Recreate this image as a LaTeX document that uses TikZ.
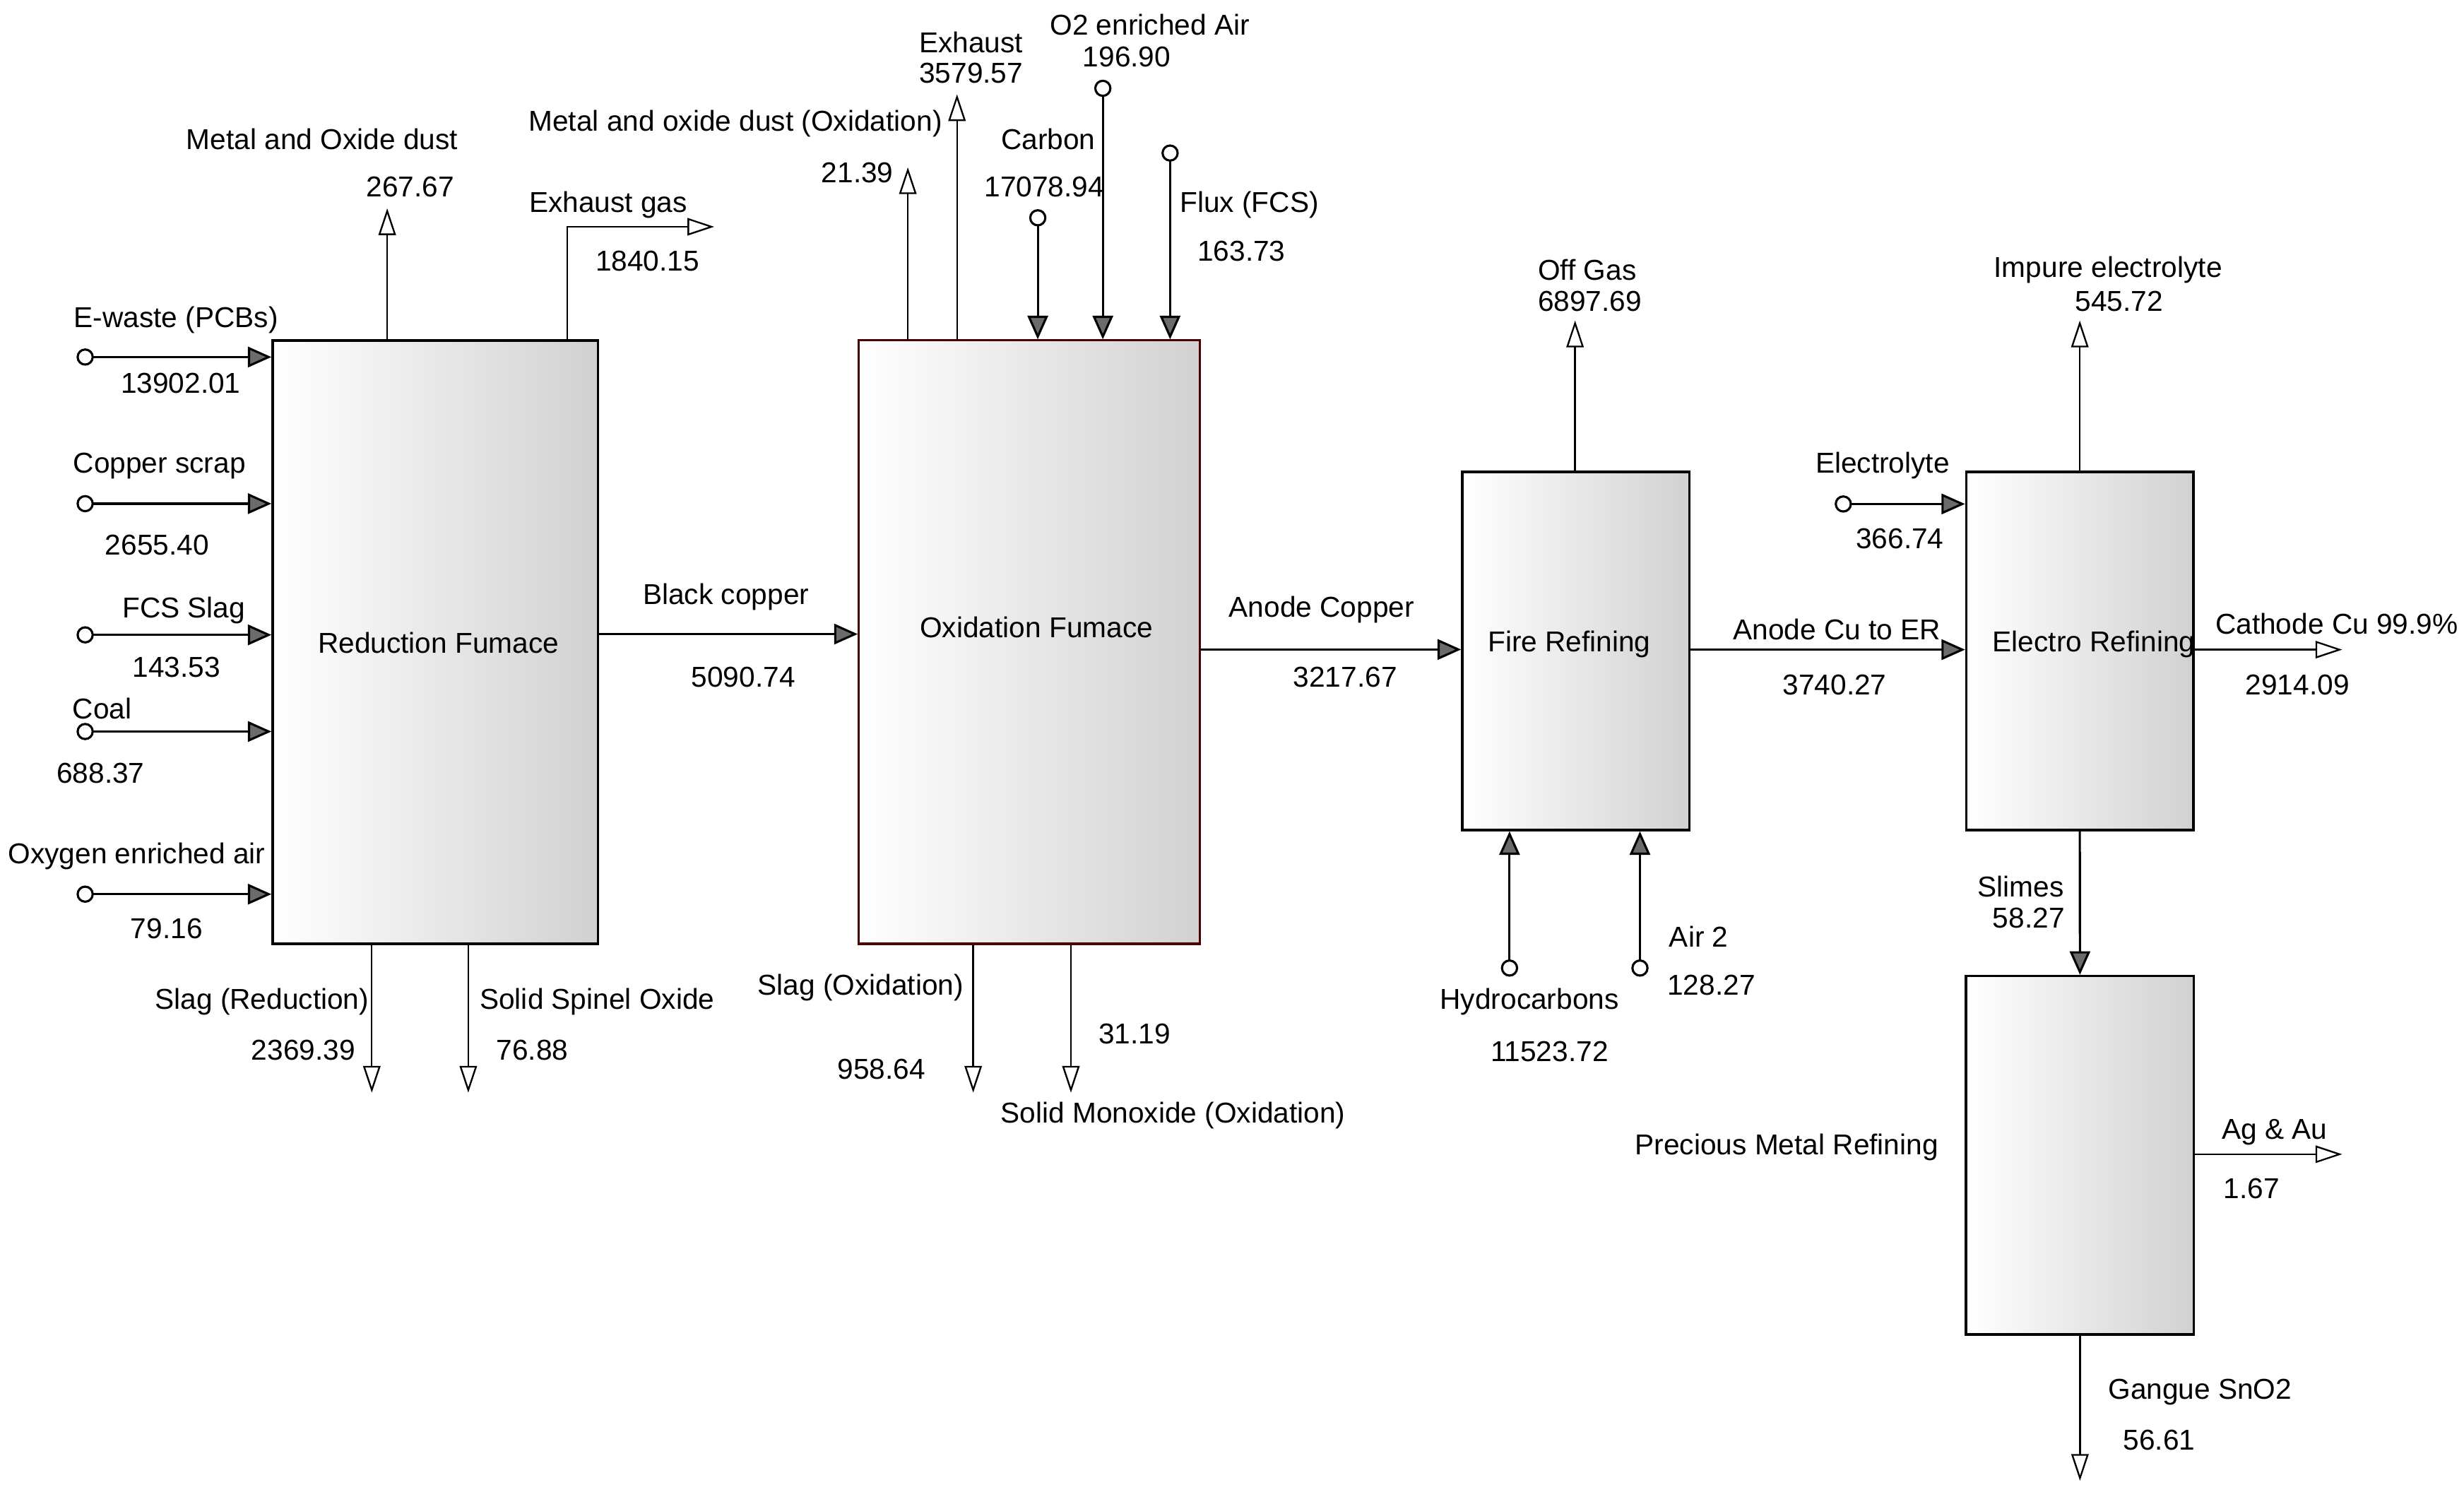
\documentclass[tikz,border=0pt]{standalone}
\usepackage{fontspec}
\setmainfont{Liberation Sans}
\usetikzlibrary{arrows.meta}
\definecolor{oxborder}{RGB}{72,0,0}

\tikzset{
  unit/.style={draw, line width=0.9pt, left color=white, right color=black!18, inner sep=0pt},
  feed/.style={line width=0.8pt, {Circle[open,length=2.2mm,width=2.2mm]}-{Triangle[length=3mm,width=2.6mm,fill=black!58]}},
  link/.style={line width=0.8pt, -{Triangle[length=3mm,width=2.6mm,fill=black!58]}},
  prod/.style={line width=0.6pt, -{Triangle[open,length=3.4mm,width=2.2mm]}}
}

\begin{document}
\begin{tikzpicture}[x=0.02cm,y=-0.02cm,font=\fontsize{10.4}{12}\selectfont]
\useasboundingbox (0,0) rectangle (1568,949);

% units
\node[unit, minimum width=4.14cm, minimum height=7.68cm] (red) at (277,408.6) {};
\node[unit, draw=oxborder, line width=0.8pt, minimum width=4.34cm, minimum height=7.68cm] (oxf) at (655,408.6) {};
\node[unit, minimum width=2.89cm, minimum height=4.56cm] (fr) at (1002.8,414.2) {};
\node[unit, minimum width=2.89cm, minimum height=4.56cm] (er) at (1323.5,414.2) {};
\node[unit, minimum width=2.9cm, minimum height=4.56cm] (pmr) at (1323.6,735.1) {};
\node (redl) at (279,409) {Reduction Fumace};
\node (oxfl) at (659.6,399.3) {Oxidation Fumace};
\node (frl) at (998.6,410) {Fire Refining};
\node (erl) at (1332.5,410) {Electro Refining};
\node (pmrl) at (1137,730) {Precious Metal Refining};

% reduction furnace
\coordinate (ew) at (48.7,227.2);
\coordinate (cs) at (48.7,320.5);
\coordinate (fcs) at (48.7,404);
\coordinate (coal) at (48.7,465.5);
\coordinate (oxa) at (48.7,569);
\draw[feed] (ew) -- (ew -| red.west);
\draw[feed] (cs) -- (cs -| red.west);
\draw[feed] (fcs) -- (fcs -| red.west);
\draw[feed] (coal) -- (coal -| red.west);
\draw[feed] (oxa) -- (oxa -| red.west);
\node (ewl) at (112,203.5) {E-waste (PCBs)};
\node (ewv) at (115,244) {13902.01};
\node (csl) at (101.5,296.4) {Copper scrap};
\node (csv) at (100,347) {2655.40};
\node (fcsl) at (117,388.5) {FCS Slag};
\node (fcsv) at (112.3,424.6) {143.53};
\node (coall) at (65,451) {Coal};
\node (coalv) at (64,492) {688.37};
\node (oxal) at (87,544.7) {Oxygen enriched air};
\node (oxav) at (106,591) {79.16};

\coordinate (mdust) at (246.4,132.6);
\coordinate (exg) at (454.5,144.3);
\coordinate (exgc) at (361,144.3);
\draw[prod] (mdust |- red.north) -- (mdust);
\draw[prod] (red.north -| exgc) |- (exg);
\node (mdustl) at (205,88.5) {Metal and Oxide dust};
\node (mdustv) at (261,119) {267.67};
\node (exgl) at (387,130.4) {Exhaust gas};
\node (exgv) at (412,166) {1840.15};

\coordinate (slr) at (236.6,695.3);
\coordinate (sso) at (298,695.3);
\draw[prod] (slr |- red.south) -- (slr);
\draw[prod] (sso |- red.south) -- (sso);
\node (slrl) at (166.7,637.6) {Slag (Reduction)};
\node (slrv) at (193,668.3) {2369.39};
\node (ssol) at (380,637.6) {Solid Spinel Oxide};
\node (ssov) at (338.7,668.3) {76.88};

\coordinate (bc) at (460,403.5);
\draw[link] (red.east |- bc) -- (oxf.west |- bc);
\node (bcl) at (462,380) {Black copper};
\node (bcv) at (473,431) {5090.74};

% oxidation furnace
\coordinate (oxdust) at (577.7,106.5);
\coordinate (exh) at (609,60);
\draw[prod] (oxdust |- oxf.north) -- (oxdust);
\draw[prod] (exh |- oxf.north) -- (exh);
\node (oxdustl) at (468,78.7) {Metal and oxide dust (Oxidation)};
\node (oxdustv) at (545.6,110) {21.39};
\node (exhl) at (618,27) {Exhaust};
\node (exhv) at (618,46.5) {3579.57};

\coordinate (carb) at (660.4,133.1);
\coordinate (otwo) at (701.8,50.7);
\coordinate (flux) at (744.6,91.9);
\draw[feed] (carb) -- (carb |- oxf.north);
\draw[feed] (otwo) -- (otwo |- oxf.north);
\draw[feed] (flux) -- (flux |- oxf.north);
\node (carbl) at (667,88.4) {Carbon};
\node (carbv) at (664.5,119) {17078.94};
\node (otwol) at (731.7,15.7) {O2 enriched Air};
\node (otwov) at (717,36) {196.90};
\node (fluxl) at (795,130.4) {Flux (FCS)};
\node (fluxv) at (790,159.6) {163.73};

\coordinate (slox) at (619.3,695.3);
\coordinate (smox) at (681.5,695.3);
\draw[prod] (slox |- oxf.south) -- (slox);
\draw[prod] (smox |- oxf.south) -- (smox);
\node (sloxl) at (547.6,628.6) {Slag (Oxidation)};
\node (sloxv) at (561,680.4) {958.64};
\node (smoxv) at (722,657.9) {31.19};
\node (smoxl) at (746.5,709.6) {Solid Monoxide (Oxidation)};

\coordinate (ac) at (850,413.3);
\draw[link] (oxf.east |- ac) -- (fr.west |- ac);
\node (acl) at (841,388) {Anode Copper};
\node (acv) at (856,430.8) {3217.67};

% fire refining
\coordinate (og) at (1002.3,204);
\draw[prod] (og |- fr.north) -- (og);
\node (ogl) at (1010,171.6) {Off Gas};
\node (ogv) at (1011.7,191.8) {6897.69};

\coordinate (hc) at (960.6,621.5);
\coordinate (airt) at (1043.6,621.5);
\draw[feed] (hc) -- (hc |- fr.south);
\draw[feed] (airt) -- (airt |- fr.south);
\node (hcl) at (973.3,637.6) {Hydrocarbons};
\node (hcv) at (986,669) {11523.72};
\node (airtl) at (1081,596) {Air 2};
\node (airtv) at (1089,627) {128.27};

\coordinate (acer) at (1160,413.4);
\draw[link] (fr.east |- acer) -- (er.west |- acer);
\node (acerl) at (1169,400.4) {Anode Cu to ER};
\node (acerv) at (1167.5,436) {3740.27};

% electro refining
\coordinate (imp) at (1323.5,204);
\draw[prod] (er.north) -- (imp);
\node (impl) at (1341.5,171.6) {Impure electrolyte};
\node (impv) at (1348.5,191.8) {545.72};

\coordinate (ely) at (1167.5,320.7);
\draw[feed] (ely) -- (ely -| er.west);
\node (elyl) at (1198,296.4) {Electrolyte};
\node (elyv) at (1209,342.6) {366.74};

\coordinate (cath) at (1490.5,413.4);
\draw[prod] (cath -| er.east) -- (cath);
\node (cathl) at (1487,396.8) {Cathode Cu 99.9\%};
\node (cathv) at (1462,436) {2914.09};

\draw[link] (er.south) -- (pmr.north);
\node (slml) at (1286,564.3) {Slimes};
\node (slmv) at (1291,584.4) {58.27};

% precious metal refining
\coordinate (agau) at (1490.5,734.5);
\draw[prod] (agau -| pmr.east) -- (agau);
\node (agaul) at (1447.5,720.6) {Ag \& Au};
\node (agauv) at (1432.7,756.5) {1.67};

\coordinate (gang) at (1323.6,942.3);
\draw[prod] (pmr.south) -- (gang);
\node (gangl) at (1400,885.9) {Gangue SnO2};
\node (gangv) at (1374,916.6) {56.61};
\end{tikzpicture}
\end{document}
